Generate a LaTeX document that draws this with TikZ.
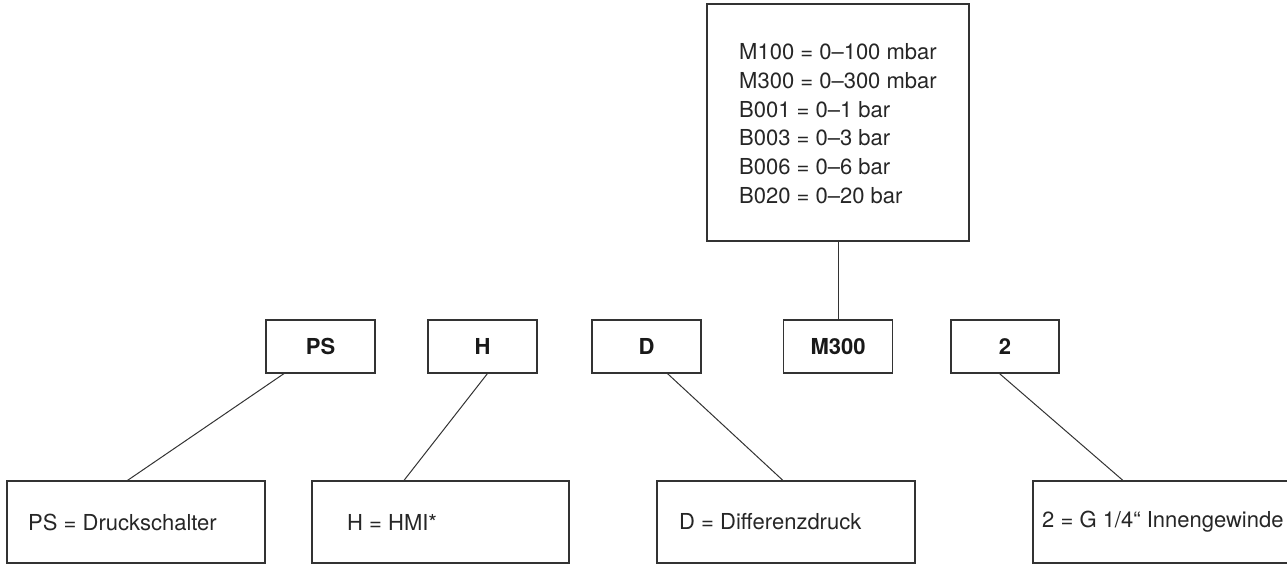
\documentclass[tikz,border=0pt]{standalone}
\usepackage{fontspec}
\setmainfont{TeX Gyre Heros}
\usetikzlibrary{calc}
\begin{document}
\begin{tikzpicture}[x=1pt,y=-1pt,
  box/.style={draw=black!80,line width=1.1pt,rectangle,inner sep=0pt},
  code/.style={box,minimum width=109pt,minimum height=53pt,font=\fontsize{22}{26}\selectfont\bfseries,text=black!90},
  desc/.style={box,minimum width=258pt,minimum height=82pt},
  dtext/.style={anchor=west,inner sep=0pt,font=\fontsize{22}{26}\selectfont,text=black!85},
  wire/.style={draw=black!80,line width=1pt}]
\useasboundingbox (0,0) rectangle (1287,564);
% top range box
\node[box,minimum width=262pt,minimum height=237pt] (range) at (838,122.5) {};
\node[dtext,align=left,font=\fontsize{22}{28.7}\selectfont] (rangetext) at (739,123.5)
  {M100 = 0–100 mbar\\M300 = 0–300 mbar\\B001 = 0–1 bar\\B003 = 0–3 bar\\B006 = 0–6 bar\\B020 = 0–20 bar};
% middle code boxes
\node[code] (ps) at (320.5,346.5) {PS};
\node[code] (h) at (482.5,346.5) {H};
\node[code] (d) at (646.5,346.5) {D};
\node[code] (m) at (838,346.5) {M300};
\node[code,minimum width=108pt] (two) at (1005,346.5) {2};
% bottom description boxes
\node[desc] (psd) at (136,522) {};
\node[desc,minimum width=257pt] (hd) at (440.5,522) {};
\node[desc] (dd) at (786,522) {};
\node[desc,minimum width=267pt] (twod) at (1166.5,522) {};
\node[dtext] (pst) at (28,522) {PS = Druckschalter};
\node[dtext] (ht) at (347,522) {H = HMI*};
\node[dtext] (dt) at (679,522) {D = Differenzdruck};
\node[dtext] (twot) at (1042,522) {2 = G 1/4“ Innengewinde};
% connectors
\draw[wire] (range.south) -- (m.north);
\draw[wire] ($(ps.south west)+(18.6,0)$) -- ($(psd.north west)+(121,0)$);
\draw[wire] ($(h.south west)+(60,0)$) -- ($(hd.north west)+(92.5,0)$);
\draw[wire] ($(d.south west)+(76,0)$) -- ($(dd.north west)+(126.5,0)$);
\draw[wire] ($(two.south west)+(49,0)$) -- ($(twod.north west)+(90.5,0)$);
\end{tikzpicture}
\end{document}
